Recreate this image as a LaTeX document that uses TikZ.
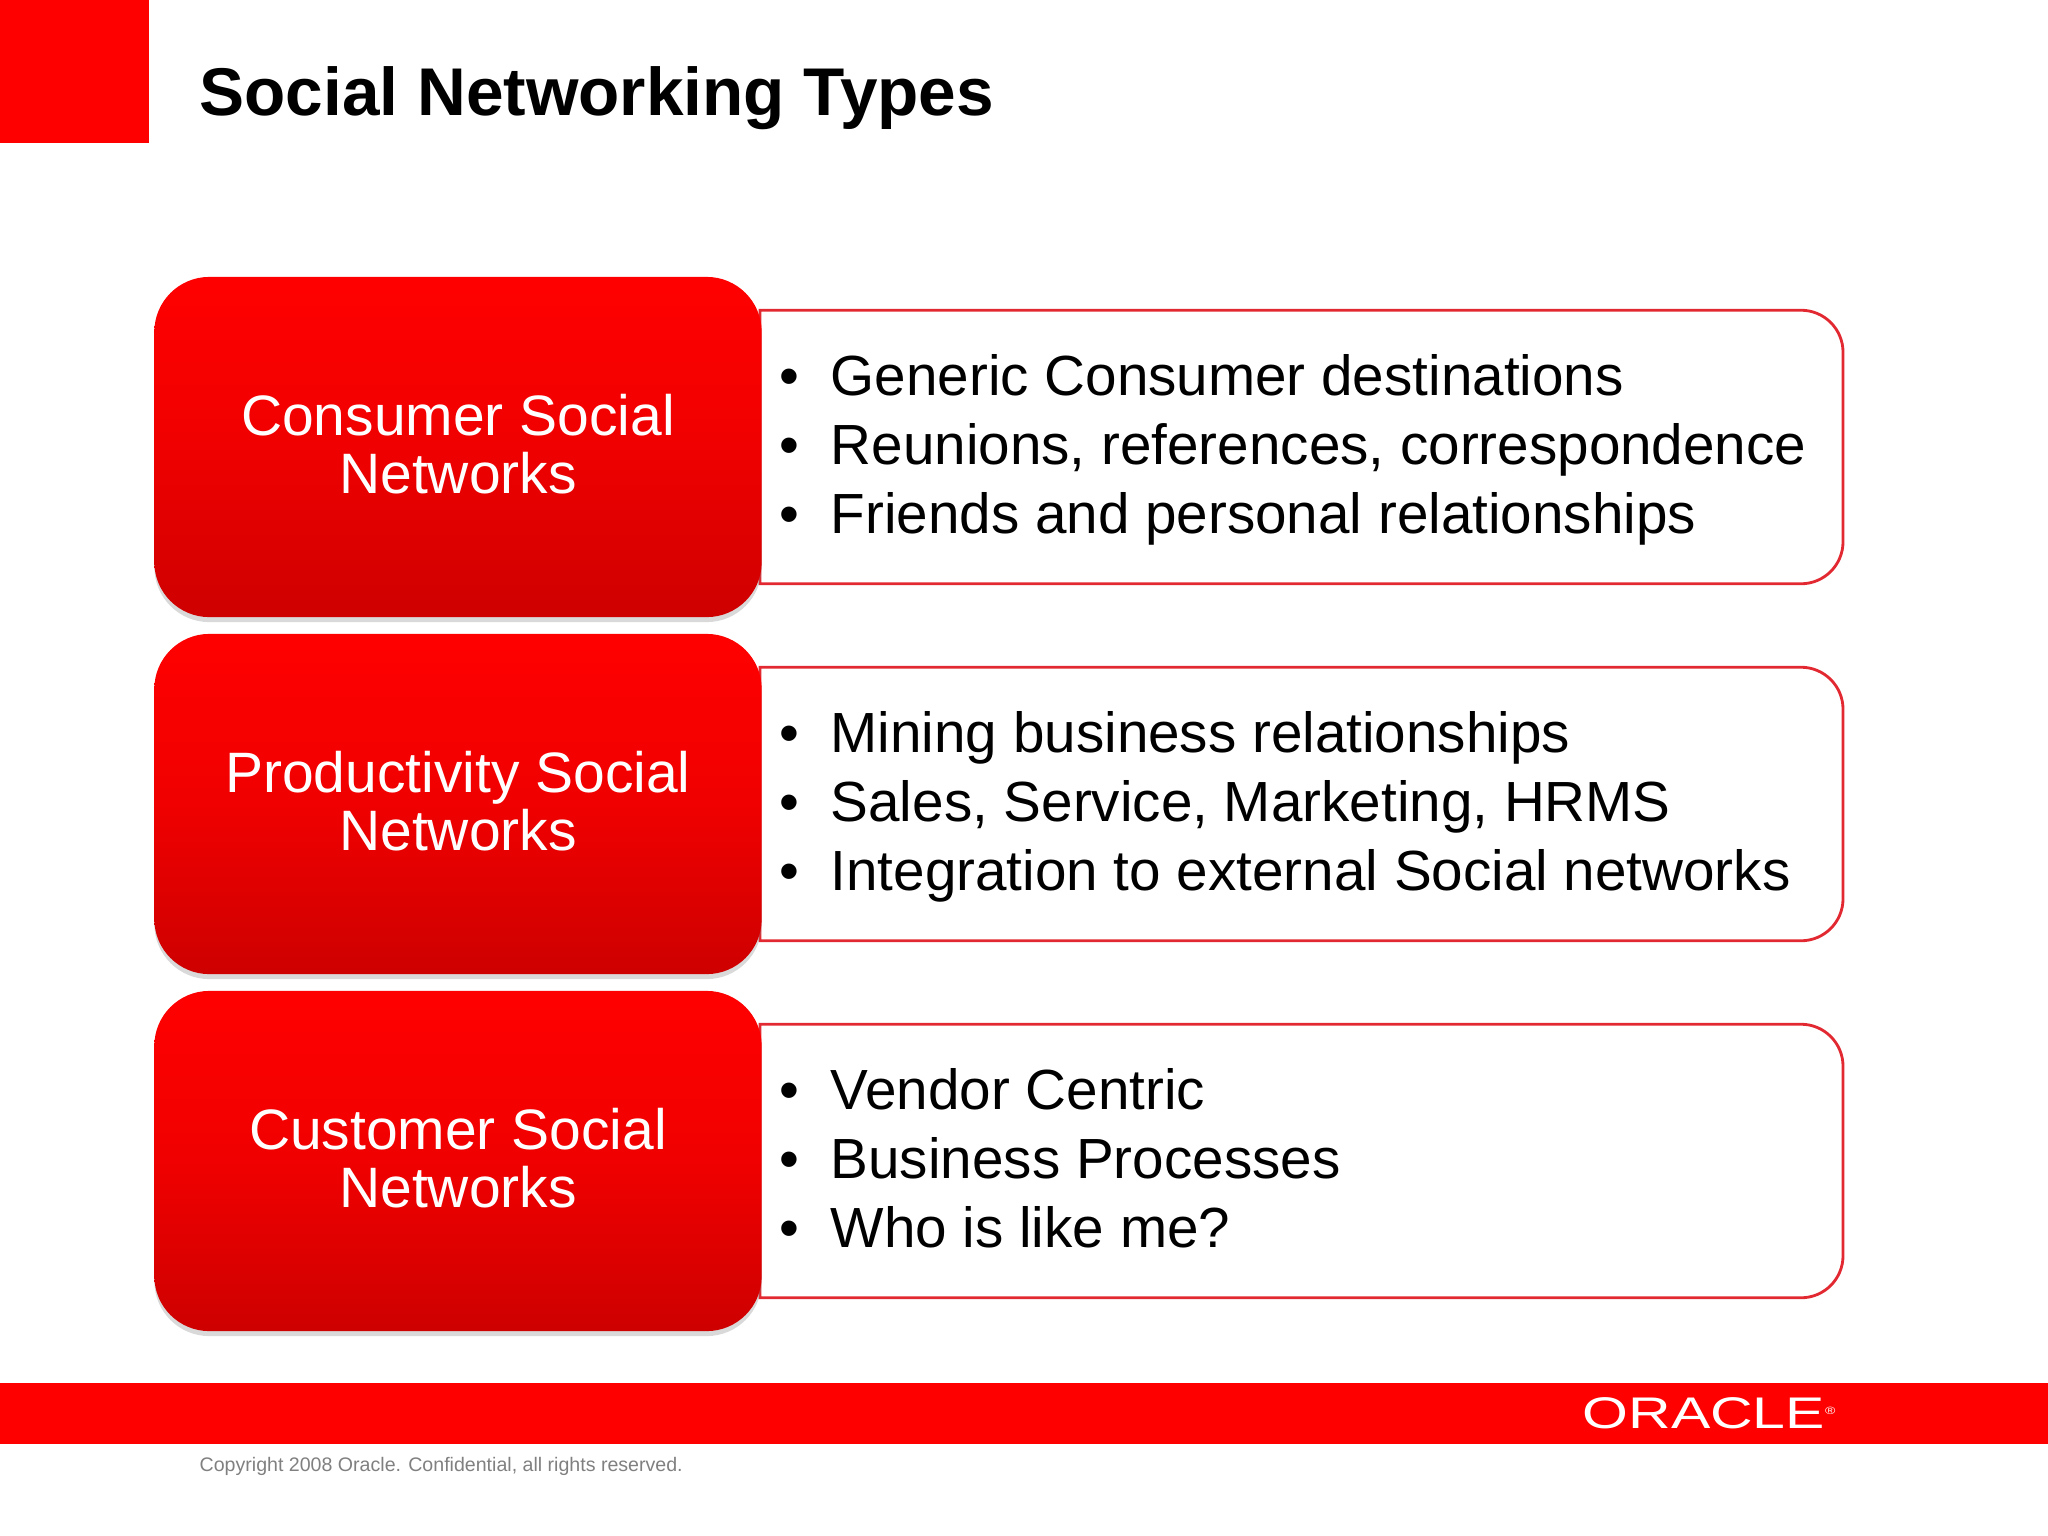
\documentclass[tikz,border=0pt]{standalone}
\usepackage{fontspec}
\setmainfont{Liberation Sans}
\usepackage{tikz}
\usetikzlibrary{calc,shadows}
\definecolor{oraclered}{RGB}{255,0,0}
\definecolor{boxbottom}{RGB}{206,0,0}
\definecolor{boxmiddle}{RGB}{240,0,0}
\definecolor{listline}{RGB}{226,40,48}
\definecolor{copygrey}{RGB}{128,128,128}
\tikzstyle{redbox}=[rectangle,rounded corners=0.55cm,top color=oraclered,bottom color=boxbottom,
                    middle color=boxmiddle,text=white,align=center,minimum width=6.07cm,minimum height=3.4cm,
                    font=\fontsize{16.2}{16.5}\selectfont,inner sep=0pt,
                    drop shadow={shadow xshift=0pt,shadow yshift=-0.05cm,opacity=0.3}]
\tikzstyle{listbox}=[rectangle,fill=white,minimum width=10.81cm,minimum height=2.72cm,
                     font=\fontsize{16.1}{19.6}\selectfont,inner sep=0pt]
\tikzstyle{listframe}=[draw=listline,line width=0.8pt]
\tikzstyle{bar}=[rectangle,fill=oraclered,inner sep=0pt,anchor=north west]
\newcommand\bulletline[1]{\strut\hspace*{0.19cm}\makebox[0.51cm][l]{•}#1}
\newcommand\listlabel[3]{\parbox{10.81cm}{\vspace*{0.08cm}\bulletline{#1}\\\bulletline{#2}\\\bulletline{#3}}}
\newcommand\boxlabel[2]{\parbox{6.07cm}{\centering #1\\#2\par\vspace*{0.05cm}}}
\newcommand\rowspacing{357}
\newcommand\frameright[1]{
	\draw [listframe] (#1.north west) [rounded corners=0.42cm] -- (#1.north east) -- (#1.south east)
		[sharp corners] -- (#1.south west) -- cycle;
}
\begin{document}
\begin{tikzpicture}[x=0.01cm,y=-0.01cm]
	\useasboundingbox (0,0) rectangle (2048,1536);
	\node [bar,minimum width=1.53cm,minimum height=1.47cm] (corner) at (-5,-5) {};
	\node [anchor=west,inner sep=0pt,font=\fontsize{19.2}{23}\selectfont\bfseries] (title) at (199,98) {Social Networking Types};

	\node [listbox] (consumer list) at ($(1301.5,447+\rowspacing*0)$) {
		\listlabel{Generic Consumer destinations}{Reunions, references, correspondence}{Friends and personal relationships}
	};
	\frameright{consumer list}
	\node [listbox] (productivity list) at ($(1301.5,447+\rowspacing*1)$) {
		\listlabel{Mining business relationships}{Sales, Service, Marketing, HRMS}{Integration to external Social networks}
	};
	\frameright{productivity list}
	\node [listbox] (customer list) at ($(1301.5,447+\rowspacing*2)$) {
		\listlabel{Vendor Centric}{Business Processes}{Who is like me?}
	};
	\frameright{customer list}

	\node [redbox] (consumer) at ($(458,447+\rowspacing*0)$) {\boxlabel{Consumer Social}{Networks}};
	\node [redbox] (productivity) at ($(458,447+\rowspacing*1)$) {\boxlabel{Productivity Social}{Networks}};
	\node [redbox] (customer) at ($(458,447+\rowspacing*2)$) {\boxlabel{Customer Social}{Networks}};

	\node [bar,minimum width=20.6cm,minimum height=0.61cm] (footer) at (-5,1382) {};
	\node [text=white,xscale=1.33,font=\fontsize{12.6}{13}\selectfont] (logo) at (1709,1413) {ORACLE\raisebox{0.6ex}{\fontsize{3}{3}\selectfont ®}};
	\node [anchor=west,text=copygrey,inner sep=0pt,font=\fontsize{5.57}{7}\selectfont] (copyright) at (199,1466) {Copyright 2008 Oracle. Confidential, all rights reserved.};
\end{tikzpicture}
\end{document}
